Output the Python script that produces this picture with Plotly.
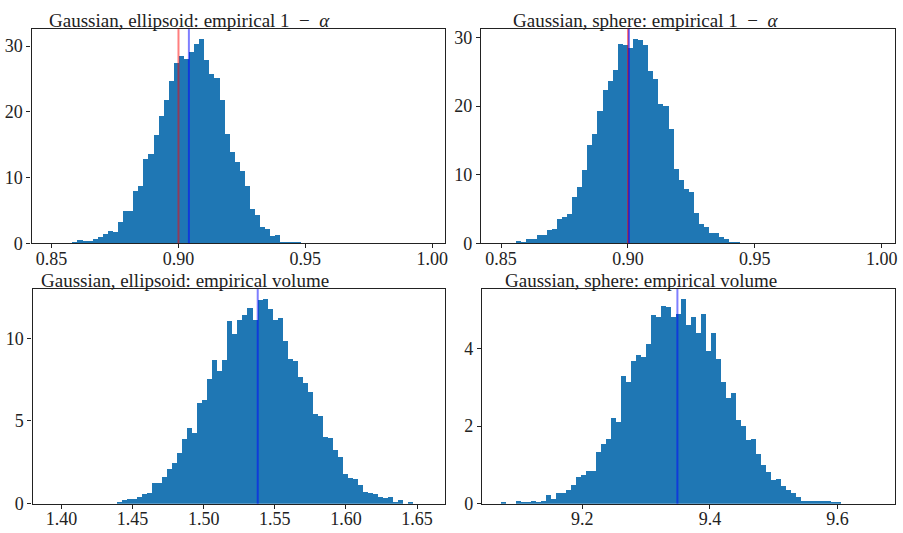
import plotly.graph_objects as go

W, H = 903, 533

# ---------------- data (density histograms) ----------------
# Top-left: Gaussian, ellipsoid: empirical 1 - alpha
tl_start, tl_width = 0.85, 0.002
tl_heights = [0, 0, 0, 0,
              0.2, 0.5, 0.35, 0.35, 0.65, 0.95, 1.4, 1.85, 1.7, 3.3,
              4.95, 4.95, 8.0, 8.8, 12.85, 13.6, 16.55, 19.4, 21.8, 24.8,
              27.5, 28.6, 28.05, 29.2, 30.4, 31.1, 27.9, 25.8, 25.2, 21.9,
              16.7, 14.0, 12.4, 11.05, 8.8, 5.25, 4.35, 2.45, 2.15, 1.1,
              1.25, 0.15, 0.15, 0.15, 0.15] + [0] * 26
tl_target = 0.90
tl_mean = 0.9041

# Top-right: Gaussian, sphere: empirical 1 - alpha
tr_start, tr_width = 0.85, 0.002
tr_heights = [0, 0, 0,
              0.33, 0.19, 0.62, 0.62, 1.19, 1.19, 2.04, 2.18, 3.6, 3.9,
              4.3, 6.74, 8.3, 10.7, 14.3, 16.0, 19.3, 22.4, 23.7, 25.25,
              29.1, 28.95, 28.5, 29.8, 29.7, 28.95, 25.1, 24.0, 20.3, 20.1,
              16.7, 10.9, 9.2, 8.0, 7.45, 4.46, 2.9, 2.47, 1.6, 1.47,
              0.9, 0.62, 0.19, 0.19] + [0] * 28
tr_target = 0.90
tr_mean = 0.9004

# Bottom-left: Gaussian, ellipsoid: empirical volume
bl_start, bl_width = 1.3929, 0.003528
bl_heights = [0] * 13 + [
              0.08, 0.2, 0.31, 0.31, 0.43, 0.61, 0.67, 1.26, 1.26, 1.61,
              2.09, 2.44, 3.09, 3.92, 4.57, 4.27, 6.1, 6.28, 7.52, 8.7,
              8.05, 8.7, 11.06, 10.24, 11.12, 11.42, 11.83, 11.12, 12.3, 12.36,
              11.77, 11.12, 11.24, 9.82, 8.76, 8.64, 7.64, 7.28, 6.75, 5.45,
              5.33, 4.04, 3.98, 3.27, 2.85, 1.79, 1.56, 1.5, 1.14, 0.73,
              0.67, 0.61, 0.43, 0.37, 0.43, 0.08, 0.2, 0, 0.08] + [0] * 3
bl_mean = 1.538

# Bottom-right: Gaussian, sphere: empirical volume
br_start, br_width = 9.0722, 0.00784
br_heights = [0.034, 0, 0, 0.084, 0.034, 0.034, 0.06, 0.034, 0.06, 0.235,
              0.134, 0.285, 0.285, 0.36, 0.486, 0.69, 0.74, 0.84, 0.84, 1.34,
              1.54, 1.67, 2.22, 2.10, 3.28, 3.15, 3.68, 3.83, 3.78, 4.11,
              4.86, 4.81, 5.09, 5.06, 4.81, 4.89, 5.27, 4.61, 4.81, 4.39,
              4.89, 3.93, 4.39, 3.73, 3.15, 2.73, 2.85, 2.17, 2.0, 1.64,
              1.67, 1.29, 1.01, 0.81, 0.61, 0.64, 0.45, 0.35, 0.29, 0.18,
              0.084, 0.084, 0.084, 0.067, 0.067, 0.067, 0.034, 0.034] + [0] * 7
br_mean = 9.349

titles = ["Gaussian, ellipsoid: empirical 1\u2002\u2212\u2002<i>\u03b1</i>",
          "Gaussian, sphere: empirical 1\u2002\u2212\u2002<i>\u03b1</i>",
          "Gaussian, ellipsoid: empirical volume",
          "Gaussian, sphere: empirical volume"]

tl_ticks = [0.85, 0.90, 0.95, 1.00]
tl_ticklabels = ["0.85", "0.90", "0.95", "1.00"]
bl_ticks = [1.40, 1.45, 1.50, 1.55, 1.60, 1.65]
bl_ticklabels = ["1.40", "1.45", "1.50", "1.55", "1.60", "1.65"]
br_ticks = [9.2, 9.4, 9.6]
br_ticklabels = ["9.2", "9.4", "9.6"]
tl_yticks = [0, 10, 20, 30]
bl_yticks = [0, 5, 10]
br_yticks = [0, 2, 4]

# ---------------- layout (pixel geometry) ----------------
panels = [
    dict(start=tl_start, width=tl_width, heights=tl_heights, target=tl_target, mean=tl_mean,
         px=(31.67, 446.67), py=(28.3, 247.3), xr=(0.8421, 1.0051),
         xt=tl_ticks, xtl=tl_ticklabels, yt=tl_yticks, tx=48),
    dict(start=tr_start, width=tr_width, heights=tr_heights, target=tr_target, mean=tr_mean,
         px=(482.67, 897.67), py=(28.3, 247.3), xr=(0.8421, 1.0051),
         xt=tl_ticks, xtl=tl_ticklabels, yt=tl_yticks, tx=514),
    dict(start=bl_start, width=bl_width, heights=bl_heights, target=None, mean=bl_mean,
         px=(32.67, 446.67), py=(294.0, 513.3), xr=(1.3797, 1.6698),
         xt=bl_ticks, xtl=bl_ticklabels, yt=bl_yticks, tx=40),
    dict(start=br_start, width=br_width, heights=br_heights, target=None, mean=br_mean,
         px=(483.67, 897.67), py=(294.0, 513.3), xr=(9.0428, 9.6896),
         xt=br_ticks, xtl=br_ticklabels, yt=br_yticks, tx=506),
]

FONT = "Liberation Serif"
TXT = "#222222"
BAR = "#1f77b4"

fig = go.Figure()
layout = dict(width=W, height=H, margin=dict(l=0, r=0, t=0, b=0),
              paper_bgcolor="white", plot_bgcolor="white", showlegend=False,
              bargap=0, font=dict(family=FONT, size=18, color=TXT))
shapes = []
annotations = []

for i, p in enumerate(panels):
    n = i + 1
    xa = "x" if n == 1 else f"x{n}"
    ya = "y" if n == 1 else f"y{n}"
    centers = [p["start"] + (k + 0.5) * p["width"] for k in range(len(p["heights"]))]
    fig.add_trace(go.Bar(x=centers, y=p["heights"], width=p["width"],
                         marker=dict(color=BAR, line=dict(width=0)),
                         xaxis=xa, yaxis=ya, hoverinfo="skip"))
    ymax = max(p["heights"]) * 1.05
    axis_common = dict(showline=True, mirror=True, linecolor="#222222", linewidth=1.2,
                       ticks="outside", ticklen=4, tickwidth=1, tickcolor="#222222",
                       showgrid=False, zeroline=False,
                       tickfont=dict(family=FONT, size=18, color=TXT))
    layout["xaxis" if n == 1 else f"xaxis{n}"] = dict(
        domain=[p["px"][0] / W, p["px"][1] / W], range=list(p["xr"]),
        tickvals=p["xt"], ticktext=p["xtl"], anchor=ya, ticklabelstandoff=-5,
        **axis_common)
    layout["yaxis" if n == 1 else f"yaxis{n}"] = dict(
        domain=[1 - p["py"][1] / H, 1 - p["py"][0] / H], range=[0, ymax],
        tickvals=p["yt"], anchor=xa, **axis_common)
    xref = xa
    yref = f"{ya} domain"
    if p["target"] is not None:
        shapes.append(dict(type="line", xref=xref, yref=yref, x0=p["target"], x1=p["target"],
                           y0=0, y1=1, line=dict(color="rgba(255,0,0,0.5)", width=2), layer="above"))
    shapes.append(dict(type="line", xref=xref, yref=yref, x0=p["mean"], x1=p["mean"],
                       y0=0, y1=1, line=dict(color="rgba(0,0,255,0.5)", width=2), layer="above"))
    annotations.append(dict(text=titles[i], xref="paper", yref="paper",
                            x=p["tx"] / W, y=1 - (p["py"][0] + 3) / H,
                            xanchor="left", yanchor="bottom", showarrow=False,
                            borderpad=0,
                            font=dict(family=FONT, size=19, color=TXT)))

layout["shapes"] = shapes
layout["annotations"] = annotations
fig.update_layout(**layout)
fig.write_html("out.html")
